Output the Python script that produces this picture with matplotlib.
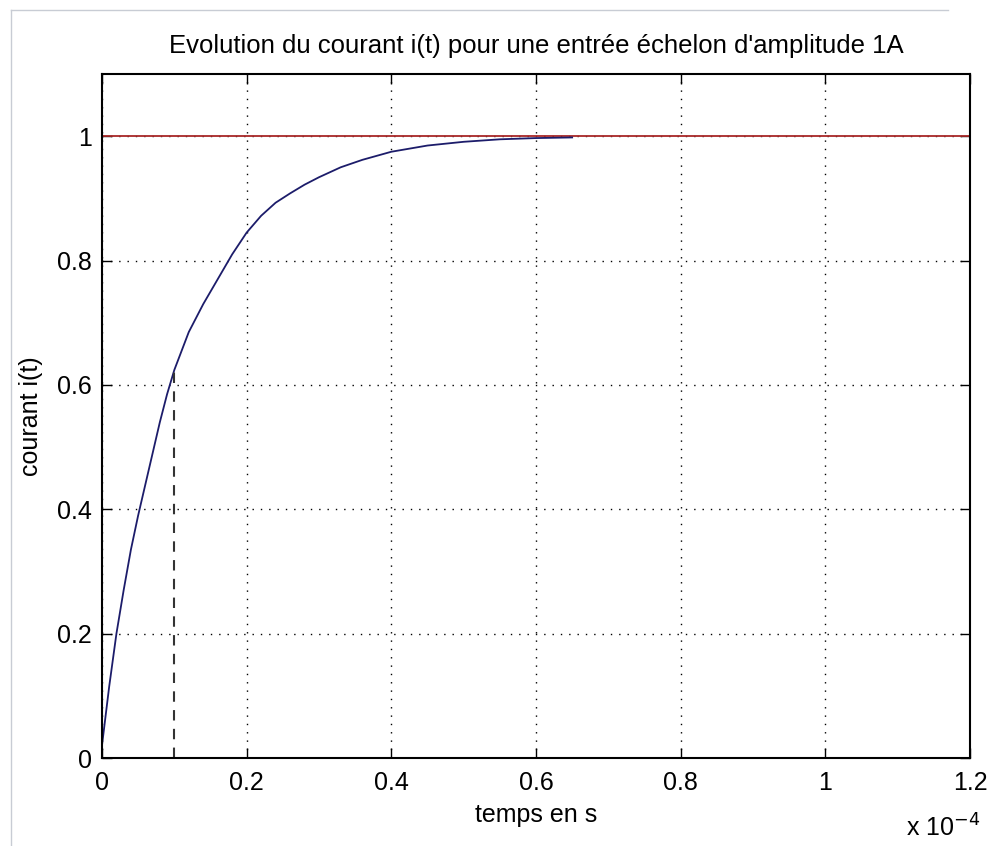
import numpy as np
import matplotlib.pyplot as plt
from matplotlib.lines import Line2D

# courant (t en unites de 1e-4 s)
t_vals = [0.0, 0.01, 0.02, 0.03, 0.04, 0.05, 0.06, 0.07, 0.08, 0.09, 0.10,
          0.12, 0.14, 0.16, 0.18, 0.20, 0.22, 0.24, 0.26, 0.28, 0.30, 0.33,
          0.36, 0.40, 0.45, 0.50, 0.55, 0.60, 0.65]
i_vals = [0.02, 0.115, 0.20, 0.27, 0.335, 0.39, 0.44, 0.49, 0.54, 0.585, 0.624,
          0.685, 0.73, 0.77, 0.81, 0.845, 0.872, 0.893, 0.908, 0.922, 0.934, 0.95,
          0.962, 0.975, 0.985, 0.991, 0.995, 0.997, 0.998]

t_tau    = 0.10
i_tau    = 0.624
consigne = 1.0

xticks = [0, 0.2, 0.4, 0.6, 0.8, 1.0, 1.2]
xtick_labels = ['0', '0.2', '0.4', '0.6', '0.8', '1', '1.2']
yticks = [0, 0.2, 0.4, 0.6, 0.8, 1.0]
ytick_labels = ['0', '0.2', '0.4', '0.6', '0.8', '1']

plt.rcParams['font.family'] = ['Liberation Sans', 'DejaVu Sans']

fig = plt.figure(figsize=(9.88, 8.46), dpi=100)
ax  = fig.add_axes([0.1032, 0.104, 0.8786, 0.8085])

ax.plot([0, 1.2], [consigne, consigne], color='#a82828', lw=1.3)
ax.plot(t_vals, i_vals, color='#1c1c6a', lw=1.3)
ax.plot([t_tau, t_tau], [0, i_tau], color='#333333', lw=1.5, linestyle=(0, (5, 4)))

ax.set_xlim(0, 1.2)
ax.set_ylim(0, 1.1)
ax.set_xticks(xticks)
ax.set_xticklabels(xtick_labels)
ax.set_yticks(yticks)
ax.set_yticklabels(ytick_labels)

ax.grid(True, color='black', linestyle=(0, (1, 5)), linewidth=1.0)
ax.tick_params(direction='in', length=7, width=1, top=True, right=True,
               labelsize=18, colors='black')
ax.tick_params(axis='x', pad=9)
ax.tick_params(axis='y', pad=7)
for s in ax.spines.values():
    s.set_linewidth(1.5)

ax.set_title("Evolution du courant i(t) pour une entrée échelon d'amplitude 1A",
             fontsize=18.5, pad=15)
ax.set_xlabel("temps en s", fontsize=18, labelpad=6)
ax.set_ylabel("courant i(t)", fontsize=18, labelpad=10)

fig.text(0.917, 0.011, r"x 10$^{-4}$", fontsize=18, ha='left', va='baseline')

# cadre gris clair de la capture
fig.add_artist(Line2D([0.011, 0.96], [0.988, 0.988], color='#c8ccd4', lw=1))
fig.add_artist(Line2D([0.011, 0.011], [0.0, 0.988], color='#c8ccd4', lw=1))

fig.savefig('out.png', dpi=100)
